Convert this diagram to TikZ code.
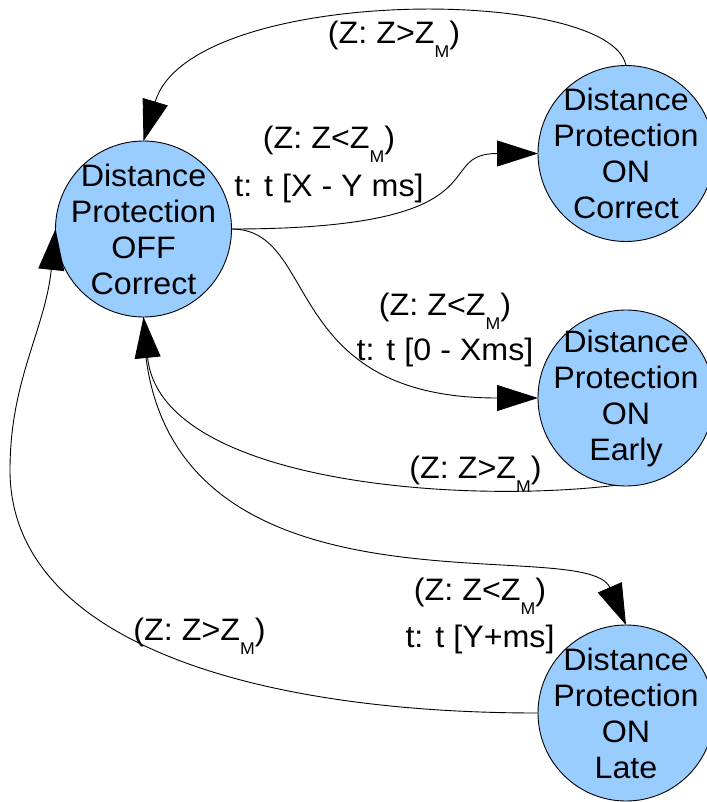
\documentclass[tikz,border=0pt]{standalone}
\usepackage{fontspec}
\setmainfont{Liberation Sans}[FakeStretch=1.04]
\usetikzlibrary{arrows.meta}
\definecolor{stateblue}{RGB}{153,204,255}
\newcommand\ZsubM{Z\raisebox{-14pt}{\fontsize{17}{17}\selectfont M}}
\begin{document}
\begin{tikzpicture}[x=1pt,y=-1pt,
  state/.style={circle, draw=black, line width=0.9pt, fill=stateblue, minimum size=176pt,
    inner sep=0pt, outer sep=0pt},
  statetext/.style={align=center, inner sep=0pt, font=\fontsize{31}{36}\selectfont},
  lbl/.style={anchor=base, inner sep=0pt, font=\fontsize{31}{36}\selectfont},
  trans/.style={line width=0.9pt, -{Triangle[length=41pt,width=26pt]}}]
\useasboundingbox (0,0) rectangle (706,802);

\node[state, label={[statetext]center:{Distance\\Protection\\OFF\\Correct}}] (OFF) at (143.5,229) {};
\node[state, label={[statetext]center:{Distance\\Protection\\ON\\Correct}}] (ONC) at (626,153.5) {};
\node[state, label={[statetext]center:{Distance\\Protection\\ON\\Early}}] (ONE) at (626,398) {};
\node[state, label={[statetext]center:{Distance\\Protection\\ON\\Late}}] (ONL) at (626,713) {};

\draw[trans] (ONC.north) .. controls (610,-15) and (190,-15) .. (OFF.north);
\draw[trans] (OFF.east) .. controls (510,229) and (430,153.5) .. (ONC.west);
\draw[trans] (OFF.east) .. controls (320,229) and (280,398) .. (ONE.west);
\draw[trans] (ONE.263) .. controls (450,505) and (160,480) .. (OFF.south);
\draw[trans] (OFF.south) .. controls (143,640) and (585,530) .. (ONL.north);
\draw[trans] (ONL.west) .. controls (250,713) and (10,640) .. (10,470)
   .. controls (10,380) and (45,330) .. (OFF.west);

\node[lbl] (l1) at (394,44) {(Z: Z>\ZsubM)};
\node[lbl] (l2a) at (329,149) {(Z: Z<\ZsubM)};
\node[lbl] (l2b) at (329,197) {t: t [X - Y ms]};
\node[lbl] (l3a) at (445,315) {(Z: Z<\ZsubM)};
\node[lbl] (l3b) at (445,360) {t: t [0 - Xms]};
\node[lbl] (l4) at (475.5,478) {(Z: Z>\ZsubM)};
\node[lbl] (l5a) at (480,600) {(Z: Z<\ZsubM)};
\node[lbl] (l5b) at (480,647) {t: t [Y+ms]};
\node[lbl] (l6) at (199.5,640) {(Z: Z>\ZsubM)};
\end{tikzpicture}
\end{document}
